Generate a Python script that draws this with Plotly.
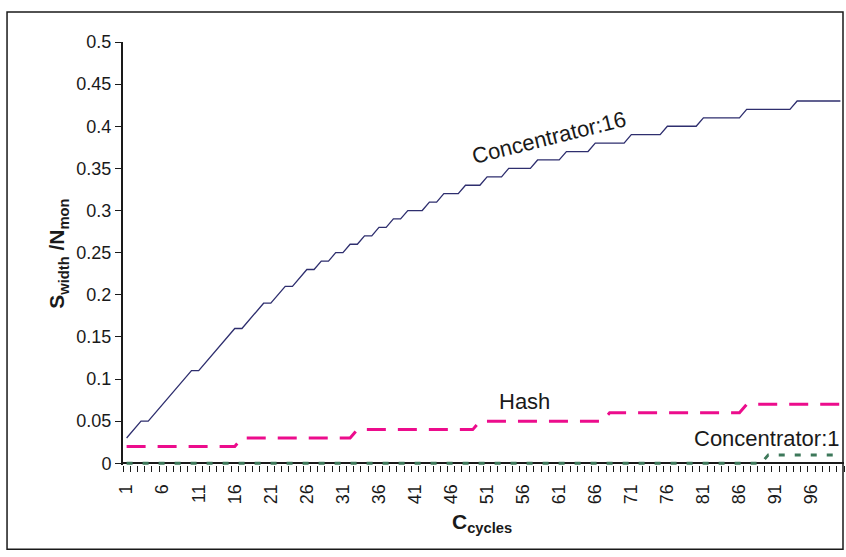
import plotly.graph_objects as go

# ---- data ---------------------------------------------------------------
cycles = list(range(1, 101))

concentrator_16 = [
    0.03, 0.04, 0.05, 0.05, 0.06, 0.07, 0.08, 0.09, 0.10, 0.11,
    0.11, 0.12, 0.13, 0.14, 0.15, 0.16, 0.16, 0.17, 0.18, 0.19,
    0.19, 0.20, 0.21, 0.21, 0.22, 0.23, 0.23, 0.24, 0.24, 0.25,
    0.25, 0.26, 0.26, 0.27, 0.27, 0.28, 0.28, 0.29, 0.29, 0.30,
    0.30, 0.30, 0.31, 0.31, 0.32, 0.32, 0.32, 0.33, 0.33, 0.33,
    0.34, 0.34, 0.34, 0.35, 0.35, 0.35, 0.35, 0.36, 0.36, 0.36,
    0.36, 0.37, 0.37, 0.37, 0.37, 0.38, 0.38, 0.38, 0.38, 0.38,
    0.39, 0.39, 0.39, 0.39, 0.39, 0.40, 0.40, 0.40, 0.40, 0.40,
    0.41, 0.41, 0.41, 0.41, 0.41, 0.41, 0.42, 0.42, 0.42, 0.42,
    0.42, 0.42, 0.42, 0.43, 0.43, 0.43, 0.43, 0.43, 0.43, 0.43,
]

hash_values = [
    0.02, 0.02, 0.02, 0.02, 0.02, 0.02, 0.02, 0.02, 0.02, 0.02,
    0.02, 0.02, 0.02, 0.02, 0.02, 0.02, 0.03, 0.03, 0.03, 0.03,
    0.03, 0.03, 0.03, 0.03, 0.03, 0.03, 0.03, 0.03, 0.03, 0.03,
    0.03, 0.03, 0.04, 0.04, 0.04, 0.04, 0.04, 0.04, 0.04, 0.04,
    0.04, 0.04, 0.04, 0.04, 0.04, 0.04, 0.04, 0.04, 0.04, 0.05,
    0.05, 0.05, 0.05, 0.05, 0.05, 0.05, 0.05, 0.05, 0.05, 0.05,
    0.05, 0.05, 0.05, 0.05, 0.05, 0.05, 0.05, 0.06, 0.06, 0.06,
    0.06, 0.06, 0.06, 0.06, 0.06, 0.06, 0.06, 0.06, 0.06, 0.06,
    0.06, 0.06, 0.06, 0.06, 0.06, 0.06, 0.07, 0.07, 0.07, 0.07,
    0.07, 0.07, 0.07, 0.07, 0.07, 0.07, 0.07, 0.07, 0.07, 0.07,
]

concentrator_1 = [
    0, 0, 0, 0, 0, 0, 0, 0, 0, 0,
    0, 0, 0, 0, 0, 0, 0, 0, 0, 0,
    0, 0, 0, 0, 0, 0, 0, 0, 0, 0,
    0, 0, 0, 0, 0, 0, 0, 0, 0, 0,
    0, 0, 0, 0, 0, 0, 0, 0, 0, 0,
    0, 0, 0, 0, 0, 0, 0, 0, 0, 0,
    0, 0, 0, 0, 0, 0, 0, 0, 0, 0,
    0, 0, 0, 0, 0, 0, 0, 0, 0, 0,
    0, 0, 0, 0, 0, 0, 0, 0, 0, 0.01,
    0.01, 0.01, 0.01, 0.01, 0.01, 0.01, 0.01, 0.01, 0.01, 0.01,
]

x_tick_vals = [1, 6, 11, 16, 21, 26, 31, 36, 41, 46, 51, 56, 61, 66, 71, 76, 81, 86, 91, 96]
x_tick_text = ["1", "6", "11", "16", "21", "26", "31", "36", "41", "46",
               "51", "56", "61", "66", "71", "76", "81", "86", "91", "96"]
y_tick_vals = [0, 0.05, 0.1, 0.15, 0.2, 0.25, 0.3, 0.35, 0.4, 0.45, 0.5]
y_tick_text = ["0", "0.05", "0.1", "0.15", "0.2", "0.25", "0.3", "0.35", "0.4", "0.45", "0.5"]

# ---- layout geometry ------------------------------------------------------
W, H = 846, 557
ML, MR, MT, MB = 123.4, 2, 42, 92.3
PW = W - ML - MR
PH = H - MT - MB


def px_x(p):
    return (p - ML) / PW


def px_y(p):
    return (H - MB - p) / PH


FONT = "Arial, 'Liberation Sans', sans-serif"
INK = "#1a1a1a"
NAVY = "#2E2E6E"
MAGENTA = "#EC0C8C"
GREEN = "#3D785A"

fig = go.Figure()

fig.add_trace(go.Scatter(
    x=cycles, y=concentrator_1, mode="lines", name="Concentrator:1",
    line=dict(color=GREEN, width=3, dash="6px,10px"),
))
fig.add_trace(go.Scatter(
    x=cycles, y=hash_values, mode="lines", name="Hash",
    line=dict(color=MAGENTA, width=3, dash="19px,12px"),
))
fig.add_trace(go.Scatter(
    x=cycles, y=concentrator_16, mode="lines", name="Concentrator:16",
    line=dict(color=NAVY, width=1.3),
))

# series labels
fig.add_annotation(x=59.6, y=0.387, text="Concentrator:16", showarrow=False,
                   textangle=-14, font=dict(family=FONT, size=22, color=INK))
fig.add_annotation(x=56.2, y=0.0735, text="Hash", showarrow=False,
                   font=dict(family=FONT, size=22, color=INK))
fig.add_annotation(x=89.8, y=0.0297, text="Concentrator:1", showarrow=False,
                   font=dict(family=FONT, size=22, color=INK))

# axis titles
fig.add_annotation(xref="paper", yref="paper", x=px_x(44), y=px_y(254),
                   text="<b>S<sub>width</sub> /N<sub>mon</sub></b>", showarrow=False,
                   textangle=-90, font=dict(family=FONT, size=21, color=INK))
fig.add_annotation(xref="paper", yref="paper", x=px_x(482), y=px_y(538),
                   text="<b>C<sub>cycles</sub></b>", showarrow=False,
                   font=dict(family=FONT, size=21, color=INK))

# outer chart frame
fig.add_shape(type="rect", xref="paper", yref="paper",
              x0=px_x(7.5), x1=px_x(843), y0=px_y(549), y1=px_y(12),
              line=dict(color=INK, width=1.5), layer="below")

fig.update_layout(
    width=W, height=H,
    margin=dict(l=ML, r=MR, t=MT, b=MB, pad=0),
    paper_bgcolor="white", plot_bgcolor="white",
    showlegend=False,
    font=dict(family=FONT, size=18, color=INK),
    xaxis=dict(
        range=[0.5, 100.5], showgrid=False, zeroline=False, showline=False,
        tickmode="array", tickvals=x_tick_vals, ticktext=x_tick_text,
        tickangle=-90, ticks="outside", ticklen=6, tickcolor="rgba(0,0,0,0)",
        ticklabelstandoff=5,
        minor=dict(tickmode="linear", tick0=0.5, dtick=1, ticks="outside",
                   ticklen=6, tickwidth=1.3, tickcolor=INK, showgrid=False),
        tickfont=dict(family=FONT, size=18, color=INK),
    ),
    yaxis=dict(
        range=[-0.002, 0.5], showgrid=False,
        zeroline=True, zerolinecolor=INK, zerolinewidth=2,
        showline=True, linecolor=INK, linewidth=2,
        tickmode="array", tickvals=y_tick_vals, ticktext=y_tick_text,
        ticks="outside", ticklen=6, tickwidth=1.3, tickcolor=INK,
        tickfont=dict(family=FONT, size=18, color=INK),
    ),
)

fig.write_html("out.html")
